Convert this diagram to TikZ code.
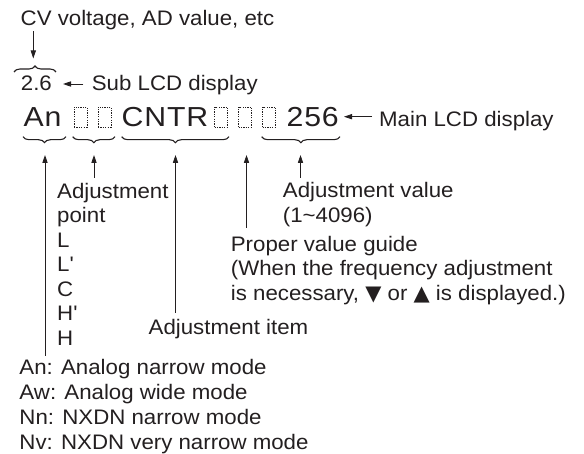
\documentclass[tikz,border=0pt]{standalone}
\usepackage{fontspec}
\setmainfont{Liberation Sans}[FakeStretch=1.06]
\newfontfamily\lcdfont{Liberation Sans}[FakeStretch=1.1,LetterSpace=3]
\newfontfamily\symfont{DejaVu Sans}
\usetikzlibrary{arrows.meta,decorations.pathreplacing}
\definecolor{ink}{RGB}{35,31,32}
\tikzset{
  txt/.style={inner sep=0pt, anchor=base west, text=ink, font=\fontsize{21}{24.5}\selectfont},
  lcd/.style={inner sep=0pt, anchor=base west, text=ink, font=\lcdfont\fontsize{27.5}{30}\selectfont},
  arr/.style={draw=ink, line width=0.8pt, -{Triangle[length=8pt,width=5.2pt]}},
  brc/.style={draw=ink, line width=1.1pt, decorate, decoration={brace, amplitude=6pt}},
  seg/.style={draw=ink, line width=0.6pt, dash pattern=on 1.2pt off 1.2pt, minimum width=13pt, minimum height=20pt, inner sep=0pt}
}
\begin{document}
\begin{tikzpicture}[x=1pt,y=1pt]
\useasboundingbox (0,0) rectangle (584,-454);
% top
\node[txt] (cv) at (20.5,-25.5) {CV voltage, AD value, etc};
\coordinate (cvA) at (33.3,-31.5);
\coordinate (cvB) at (33.3,-58.5);
\draw[arr] (cvA) -- (cvB);
\coordinate (sb1) at (14,-72);
\coordinate (sb2) at (56,-72);
\draw[brc] (sb1) -- (sb2);
\node[txt] (sub) at (20.7,-90.7) {2.6};
\node[txt] (sublab) at (91.7,-90.7) {Sub LCD display};
\coordinate (subA) at (83.3,-84);
\coordinate (subB) at (63,-84);
\draw[arr] (subA) -- (subB);
% main LCD
\node[lcd] (an) at (23.5,-127) {An};
\node[seg] (b1) at (80.5,-117) {};
\node[seg] (b2) at (104.5,-117) {};
\node[lcd] (cntr) at (121.5,-127) {CNTR};
\node[seg] (b3) at (221,-117) {};
\node[seg] (b4) at (245,-117) {};
\node[seg] (b5) at (269,-117) {};
\node[lcd] (val) at (286.5,-127) {256};
\node[txt] (mainlab) at (379,-127) {Main LCD display};
\coordinate (mA) at (372,-116.7);
\coordinate (mB) at (344,-116.7);
\draw[arr] (mA) -- (mB);
% braces below
\draw[brc] (66,-136.7) -- (23,-136.7);
\draw[brc] (115,-136.7) -- (72.7,-136.7);
\draw[brc] (229,-136.7) -- (121.7,-136.7);
\draw[brc] (340,-136.7) -- (261.7,-136.7);
% up arrows
\coordinate (t1) at (45,-155);
\coordinate (t2) at (94,-155);
\coordinate (t3) at (175.5,-155);
\coordinate (t4) at (246.5,-155);
\coordinate (t5) at (300.5,-155);
\draw[arr] (45,-356) -- (t1);
\draw[arr] (94,-178) -- (t2);
\draw[arr] (175.5,-313) -- (t3);
\draw[arr] (246.5,-228) -- (t4);
\draw[arr] (300.5,-178) -- (t5);
% adjustment point
\foreach \s [count=\i] in {Adjustment,point,L,L\textquotesingle,C,H\textquotesingle,H}
  \node[txt] (pt\i) at (57,-198.5-24.5*\i+24.5) {\s};
% adjustment value
\node[txt] (av1) at (282.7,-198) {Adjustment value};
\node[txt] (av2) at (282.7,-222.5) {(1\textasciitilde4096)};
% proper value guide
\node[txt] (pg1) at (230.7,-251.5) {Proper value guide};
\node[txt] (pg2) at (230.7,-276) {(When the frequency adjustment};
\node[txt] (pg3) at (230.7,-300.5) {is necessary, {\symfont\fontsize{21}{20}\selectfont ▼} or {\symfont\fontsize{21}{20}\selectfont ▲} is displayed.)};
% adjustment item
\node[txt] (item) at (148.5,-335) {Adjustment item};
% modes
\node[txt] (m1) at (19.3,-375) {An: Analog narrow mode};
\node[txt] (m2) at (19.3,-399.7) {Aw: Analog wide mode};
\node[txt] (m3) at (19.3,-424.4) {Nn: NXDN narrow mode};
\node[txt] (m4) at (19.3,-449) {Nv: NXDN very narrow mode};
\end{tikzpicture}
\end{document}
